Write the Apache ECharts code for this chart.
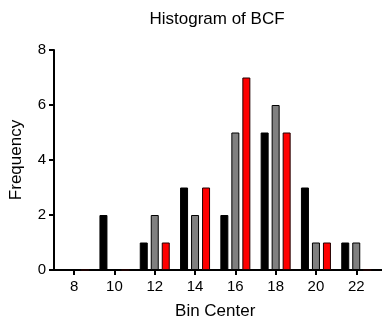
<!DOCTYPE html>
<html><head><meta charset="utf-8">
<script src="https://cdn.jsdelivr.net/npm/echarts@6/dist/echarts.min.js"></script>
<style>html,body{margin:0;padding:0;background:#fff}#c{width:382px;height:325px}</style>
</head><body><div id="c"></div>
<script>
var binCenters = ['8','10','12','14','16','18','20','22'];
var blackSeries = [0,2,1,3,2,5,3,1];
var graySeries  = [0,0,2,2,5,6,1,1];
var redSeries   = [0,0,1,3,7,5,1,0];
var yTicks = [0,2,4,6,8];

var font = 'Liberation Sans, Arial, sans-serif';
var chart = echarts.init(document.getElementById('c'), null, {renderer:'canvas'});
chart.setOption({
  animation:false,
  backgroundColor:'#fff',
  title:{text:'Histogram of BCF', left:212, top:6, textAlign:'center',
    textStyle:{fontFamily:font,fontSize:17,fontWeight:'normal',color:'#000'}},
  grid:[
    {left:51, right:5.6, top:50, bottom:55, containLabel:false},
    {left:51, right:0, top:50, bottom:55, containLabel:false}
  ],
  xAxis:[
    {type:'category', gridIndex:0, data:binCenters, boundaryGap:true,
     name:'Bin Center', nameLocation:'middle', nameGap:33,
     nameTextStyle:{fontFamily:font,fontSize:17,color:'#000'},
     axisLine:{lineStyle:{color:'#000',width:2}},
     axisTick:{show:true,alignWithLabel:true,length:5,lineStyle:{color:'#000',width:2}},
     axisLabel:{fontFamily:font,fontSize:15,color:'#000',margin:9}},
    {type:'value', gridIndex:1, min:0, max:1, show:true,
     axisLine:{show:true,lineStyle:{color:'#000',width:2}},
     axisTick:{show:false}, axisLabel:{show:false}, splitLine:{show:false}}
  ],
  yAxis:[
    {type:'value', gridIndex:0, min:0, max:8, interval:2,
     name:'Frequency', nameLocation:'middle', nameGap:29, nameRotate:90,
     nameTextStyle:{fontFamily:font,fontSize:17,color:'#000'},
     axisLine:{show:true,lineStyle:{color:'#000',width:2}},
     axisTick:{show:true,length:5,lineStyle:{color:'#000',width:2}},
     axisLabel:{fontFamily:font,fontSize:15,color:'#000',margin:8},
     splitLine:{show:false}},
    {type:'value', gridIndex:1, show:false, min:0, max:1}
  ],
  series:[
    {type:'bar', data:blackSeries, barWidth:8, barGap:'37.5%',
     itemStyle:{color:'#000',borderColor:'#000',borderWidth:1}},
    {type:'bar', data:graySeries, barWidth:8, barGap:'37.5%',
     itemStyle:{color:'#808080',borderColor:'#000',borderWidth:1}},
    {type:'bar', data:redSeries, barWidth:8, barGap:'37.5%',
     itemStyle:{color:'#ff0000',borderColor:'#200',borderWidth:1}}
  ]
});
</script></body></html>
